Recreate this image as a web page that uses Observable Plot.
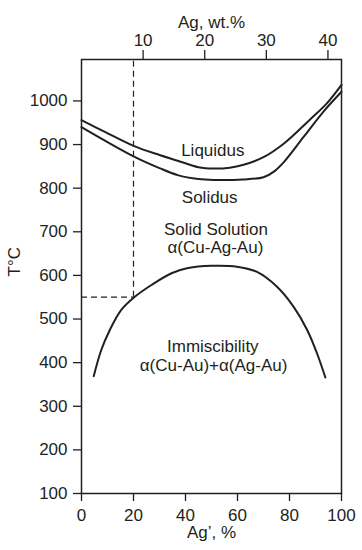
<!DOCTYPE html>
<html>
<head>
<meta charset="utf-8">
<script src="https://cdn.jsdelivr.net/npm/d3@7"></script>
<script src="https://cdn.jsdelivr.net/npm/@observablehq/plot@0.6"></script>
<style>
  html, body { margin: 0; padding: 0; background: #fff; }
  #chart { width: 362px; height: 550px; }
</style>
</head>
<body>
<div id="chart"></div>
<script>
// Ag' (%) and temperature (°C) along each boundary
const liquidusX = [0, 9, 20, 30, 37, 45, 51, 57, 62, 70, 78, 88, 94, 100];
const liquidusT = [956, 929, 897, 876, 863, 848, 845, 847, 853, 871, 903, 958, 992, 1037];
const solidusX = [0, 9, 20, 30, 37, 45, 51, 62, 70, 74, 78, 85.5, 93, 100];
const solidusT = [940, 909, 873, 846, 830, 821, 819, 820, 825, 838, 861, 918, 975, 1021];
const solvusX = [4.7, 7.6, 10.9, 15.3, 20.5, 26.9, 34.6, 41, 50, 59.8, 67.5, 75.2, 81.6, 86.8, 90.6, 93.8];
const solvusT = [369, 429, 475, 521, 551, 578, 605, 617, 622, 620, 608, 574, 528, 475, 421, 366];

// dashed guide
const guideX = 20;
const guideT = 550;

// axes
const xTicks = [0, 20, 40, 60, 80, 100];
const yTicks = [100, 200, 300, 400, 500, 600, 700, 800, 900, 1000];
const wtTicks = [10, 20, 30, 40];
const wtMax = 42.2;           // Ag wt.% at the right edge of the top axis
const xDomain = [0, 100];
const yDomain = [100, 1095];

// region labels
const labelText = ["Liquidus", "Solidus", "Solid Solution", "α(Cu-Ag-Au)", "Immiscibility", "α(Cu-Au)+α(Ag-Au)"];
const labelX = [50.5, 49.3, 51.7, 51.5, 50.5, 50.8];
const labelT = [886, 778, 706, 663, 436, 394];

const toRows = (xs, ts) => xs.map((x, i) => ({x, t: ts[i]}));
const liquidus = toRows(liquidusX, liquidusT);
const solidus = toRows(solidusX, solidusT);
const solvus = toRows(solvusX, solvusT);
const labels = labelText.map((s, i) => ({s, x: labelX[i], t: labelT[i]}));

const ink = "#231f20";
const fs = 17;

const chart = Plot.plot({
  width: 362,
  height: 550,
  marginLeft: 81,
  marginRight: 21,
  marginTop: 59,
  marginBottom: 57,
  style: {fontFamily: "'Liberation Sans', Arial, sans-serif", fontSize: fs + "px", color: ink, background: "#fff"},
  x: {domain: xDomain},
  y: {domain: yDomain},
  marks: [
    Plot.axisX({anchor: "bottom", ticks: xTicks, tickSize: 8, tickPadding: 7, label: null, strokeWidth: 1.3,
      tickFormat: d => String(d), fontSize: fs}),
    Plot.axisX({anchor: "top", ticks: wtTicks.map(w => w * 100 / wtMax), tickSize: 10, tickPadding: 4, label: null,
      tickFormat: d => String(Math.round(d * wtMax / 100)), strokeWidth: 1.3, fontSize: fs}),
    Plot.axisY({anchor: "left", ticks: yTicks, tickSize: 8, tickPadding: 6, label: null, strokeWidth: 1.3,
      tickFormat: d => String(d), fontSize: fs}),
    Plot.frame({stroke: ink, strokeWidth: 1.5}),
    Plot.ruleX([guideX], {y1: guideT, y2: yDomain[1], stroke: ink, strokeWidth: 1.2, strokeDasharray: "6,4"}),
    Plot.ruleY([guideT], {x1: xDomain[0], x2: guideX, stroke: ink, strokeWidth: 1.2, strokeDasharray: "6,4"}),
    Plot.line(liquidus, {x: "x", y: "t", curve: "catmull-rom", stroke: ink, strokeWidth: 2}),
    Plot.line(solidus, {x: "x", y: "t", curve: "catmull-rom", stroke: ink, strokeWidth: 2}),
    Plot.line(solvus, {x: "x", y: "t", curve: "catmull-rom", stroke: ink, strokeWidth: 2}),
    Plot.text(labels, {x: "x", y: "t", text: "s", fill: ink, fontSize: fs}),
    Plot.text(["Ag, wt.%"], {frameAnchor: "top", dy: -44, fill: ink, fontSize: fs}),
    Plot.text(["Ag’, %"], {frameAnchor: "bottom", dy: 44, fill: ink, fontSize: fs}),
    Plot.text(["T°C"], {frameAnchor: "left", dx: -67, rotate: -90, fill: ink, fontSize: fs})
  ]
});
document.getElementById("chart").appendChild(chart);
</script>
</body>
</html>
